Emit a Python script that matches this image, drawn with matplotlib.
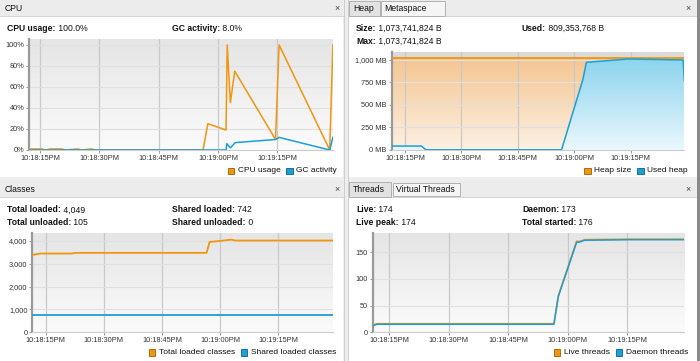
import matplotlib
matplotlib.use('Agg')
import matplotlib.pyplot as plt
import numpy as np
from matplotlib.patches import Rectangle, Polygon
from matplotlib.colors import LinearSegmentedColormap

plt.rcParams['font.family'] = ['Liberation Sans', 'DejaVu Sans']

# ---------------- data (x = seconds relative to 10:18:15 PM) ----------------
time_ticks = [0, 15, 30, 45, 60]
time_labels = ['10:18:15PM', '10:18:30PM', '10:18:45PM', '10:19:00PM', '10:19:15PM']

cpu_t = [-2.7, -1.5, 0.5, 1.5, 2.5, 4.5, 5.5, 6.5, 9.5, 10.5, 13.0, 14.0,
         41.2, 42.4, 47.0, 47.3, 48.1, 49.2, 59.5, 60.4, 73.2, 74.0]
cpu_usage = [1.0, 1.0, 1.0, 0.0, 1.0, 1.0, 1.0, 0.0, 1.0, 0.0, 1.0, 0.0,
             0.0, 25.0, 19.0, 100.0, 45.0, 75.0, 10.0, 100.0, 0.0, 100.0]
gc_t = [-2.7, 47.0, 47.2, 48.1, 49.3, 59.5, 60.4, 73.2, 74.0]
gc_activity = [0.0, 0.0, 6.0, 2.0, 7.0, 10.0, 12.0, 0.0, 12.0]

heap_t = [-3.5, 74.2]
heap_size = [1024, 1024]
used_t = [-3.5, 4.4, 5.6, 41.6, 47.1, 47.3, 48.2, 59.3, 73.9, 74.2]
used_heap = [44, 44, 2, 2, 760, 789, 974, 1011, 1000, 772]

cls_t = [-3.45, -1.5, 6.7, 7.6, 41.5, 42.3, 44.9, 47.9, 48.8, 74.2]
total_loaded = [3390, 3450, 3450, 3480, 3480, 3960, 4000, 4060, 4020, 4020]
shared_t = [-3.45, 74.2]
shared_loaded = [742, 742]

thr_t = [-4.1, -3.1, 41.5, 42.6, 47.2, 48.1, 49.2, 60.3, 74.3]
live_threads = [13, 16, 16, 68, 170, 170, 173, 174, 174]
daemon_threads = [12, 15, 15, 67, 168, 169, 172, 173, 173]

ORANGE = '#f0960f'
BLUE = '#1b9fd6'

W, H = 700, 361
fig = plt.figure(figsize=(W / 100, H / 100), dpi=100)
fig.patch.set_facecolor('white')
bg = fig.add_axes([0, 0, 1, 1])
bg.set_xlim(0, W)
bg.set_ylim(H, 0)
bg.axis('off')
renderer = fig.canvas.get_renderer()


def rect(x0, y0, x1, y1, fc, ec='none', lw=0.0, z=1):
    bg.add_patch(Rectangle((x0, y0), x1 - x0, y1 - y0, fc=fc, ec=ec, lw=lw, zorder=z))


def rich(x, y, parts, size=6.2):
    for s, w in parts:
        t = bg.text(x, y, s, fontsize=size, fontweight=w, va='center', ha='left', color='#111111', zorder=5)
        x = t.get_window_extent(renderer).x1


def legend(xr, y, items, size=6.0):
    x = xr
    for label, color, edge in reversed(items):
        t = bg.text(x, y, label, ha='right', va='center', fontsize=size, color='#111111', zorder=5)
        x0 = t.get_window_extent(renderer).x0
        sr = x0 - 3.5
        rect(sr - 6.5, y - 3.3, sr, y + 3.2, color, edge, 0.6, z=5)
        x = sr - 6.5 - 6


# ---------------- window chrome ----------------
rect(343, 0, 348, H, '#eeeeee')
bg.plot([343.5, 343.5], [0, H], color='#c8c8c8', lw=0.6)
bg.plot([347.5, 347.5], [0, H], color='#c8c8c8', lw=0.6)
rect(0, 177, W, 181, '#eeeeee')
rect(697, 0, 700, H, '#8a8a8a', z=6)

# top-left title bar
rect(0, 0, 343, 16, '#ececec')
bg.plot([0, 343], [16, 16], color='#d0d0d0', lw=0.6)
bg.text(5, 8.5, 'CPU', fontsize=6.2, va='center', color='#111111')
bg.text(337, 8.5, '×', fontsize=6.5, va='center', ha='center', color='#444444')
# top-right title bar with tabs
rect(348, 0, 697, 16, '#ececec')
bg.plot([348, 697], [16, 16], color='#d0d0d0', lw=0.6)
rect(348.5, 1, 380, 16, '#e2e2e2', '#a8a8a8', 0.6, z=2)
rect(380.5, 1, 445, 16, '#f5f5f5', '#a8a8a8', 0.6, z=2)
bg.text(353, 8.5, 'Heap', fontsize=6.2, va='center', color='#111111', zorder=3)
bg.text(384.5, 8.5, 'Metaspace', fontsize=6.2, va='center', color='#111111', zorder=3)
bg.text(688, 8.5, '×', fontsize=6.5, va='center', ha='center', color='#444444')
# bottom-left title bar
rect(0, 181, 343, 197, '#ececec')
bg.plot([0, 343], [197, 197], color='#d0d0d0', lw=0.6)
bg.text(5, 189.5, 'Classes', fontsize=6.2, va='center', color='#111111')
bg.text(337, 189.5, '×', fontsize=6.5, va='center', ha='center', color='#444444')
# bottom-right title bar with tabs
rect(348, 181, 697, 197, '#ececec')
bg.plot([348, 697], [197, 197], color='#d0d0d0', lw=0.6)
rect(348.5, 182, 391, 197, '#e2e2e2', '#a8a8a8', 0.6, z=2)
rect(392.5, 183, 460, 196, '#f5f5f5', '#a8a8a8', 0.6, z=2)
bg.text(353, 189.5, 'Threads', fontsize=6.2, va='center', color='#111111', zorder=3)
bg.text(396, 189.5, 'Virtual Threads', fontsize=6.2, va='center', color='#111111', zorder=3)
bg.text(688, 189.5, '×', fontsize=6.5, va='center', ha='center', color='#444444')

# ---------------- headers ----------------
rich(7, 28.5, [('CPU usage:', 'bold'), (' 100.0%', 'normal')])
rich(172, 28.5, [('GC activity:', 'bold'), (' 8.0%', 'normal')])
rich(356, 28.5, [('Size:', 'bold'), (' 1,073,741,824 B', 'normal')])
rich(356, 41, [('Max:', 'bold'), (' 1,073,741,824 B', 'normal')])
rich(522, 28.5, [('Used:', 'bold'), (' 809,353,768 B', 'normal')])
rich(7, 210, [('Total loaded:', 'bold'), (' 4,049', 'normal')])
rich(7, 222.5, [('Total unloaded:', 'bold'), (' 105', 'normal')])
rich(172, 210, [('Shared loaded:', 'bold'), (' 742', 'normal')])
rich(172, 222.5, [('Shared unloaded:', 'bold'), (' 0', 'normal')])
rich(356, 210, [('Live:', 'bold'), (' 174', 'normal')])
rich(356, 222.5, [('Live peak:', 'bold'), (' 174', 'normal')])
rich(522, 210, [('Daemon:', 'bold'), (' 173', 'normal')])
rich(522, 222.5, [('Total started:', 'bold'), (' 176', 'normal')])

grad = np.linspace(0, 1, 256).reshape(-1, 1)
bg_cmap = LinearSegmentedColormap.from_list('bgc', ['#fbfbfb', '#e5e5e5'])
or_cmap = LinearSegmentedColormap.from_list('orc', ['#fdf1e4', '#f4c590'])
bl_cmap = LinearSegmentedColormap.from_list('blc', ['#ebf8fd', '#8ad3ee'])


def make_ax(l, t, r, b, xlim, ylim, yticks, ylabels, gradient=True):
    ax = fig.add_axes([l / W, 1 - b / H, (r - l) / W, (b - t) / H])
    if gradient:
        ax.imshow(grad, extent=[xlim[0], xlim[1], ylim[0], ylim[1]], aspect='auto',
                  cmap=bg_cmap, origin='lower', zorder=0)
    ax.set_xlim(xlim)
    ax.set_ylim(ylim)
    ax.set_xticks(time_ticks, time_labels)
    ax.set_yticks(yticks, ylabels)
    ax.tick_params(labelsize=5.3, color='#888888', labelcolor='#333333', length=2.5, width=0.6, pad=1)
    ax.grid(axis='x', color='#c9c9c9', lw=0.9)
    ax.grid(axis='y', color='#e0e0e0', lw=0.8)
    ax.set_axisbelow(True)
    for s in ('top', 'right'):
        ax.spines[s].set_visible(False)
    ax.spines['left'].set_color('#9a9a9a')
    ax.spines['left'].set_linewidth(1.6)
    ax.spines['bottom'].set_color('#cccccc')
    ax.spines['bottom'].set_linewidth(0.8)
    return ax


def grad_fill(ax, t, v, cmap, top, z):
    verts = [(t[0], 0)] + list(zip(t, v)) + [(t[-1], 0)]
    poly = Polygon(verts, closed=True, fc='none', ec='none', transform=ax.transData)
    ax.add_patch(poly)
    im = ax.imshow(grad, extent=[t[0], t[-1], 0, top], aspect='auto', cmap=cmap, origin='lower', zorder=z)
    im.set_clip_path(poly)


# CPU
ax1 = make_ax(29.3, 39.3, 333.3, 150, (-2.7, 74.1), (0, 105.3),
              [0, 20, 40, 60, 80, 100], ['0%', '20%', '40%', '60%', '80%', '100%'])
ax1.plot(cpu_t, cpu_usage, color=ORANGE, lw=1.1, zorder=3)
ax1.plot(gc_t, gc_activity, color=BLUE, lw=1.1, zorder=4)
legend(337, 171, [('CPU usage', ORANGE, '#a05a00'), ('GC activity', BLUE, '#0a5f88')])

# Heap
ax2 = make_ax(391.7, 51.7, 684.3, 150, (-3.5, 74.2), (0, 1092),
              [0, 250, 500, 750, 1000], ['0 MB', '250 MB', '500 MB', '750 MB', '1,000 MB'], gradient=False)
ax2.fill_between(heap_t, heap_size, 1092, color='#dadada', zorder=0.2, lw=0)
grad_fill(ax2, heap_t, heap_size, or_cmap, 1024, 0.3)
grad_fill(ax2, used_t, used_heap, bl_cmap, 1024, 1.5)
ax2.set_xlim(-3.5, 74.2)
ax2.set_ylim(0, 1092)
ax2.plot(heap_t, heap_size, color=ORANGE, lw=1.3, zorder=3)
ax2.plot(used_t, used_heap, color=BLUE, lw=1.1, zorder=4)
legend(688, 171, [('Heap size', ORANGE, '#a05a00'), ('Used heap', BLUE, '#0a5f88')])

# Classes
ax3 = make_ax(32.3, 233.3, 333.3, 332.3, (-3.45, 74.2), (0, 4337),
              [0, 1000, 2000, 3000, 4000], ['0', '1,000', '2,000', '3,000', '4,000'])
ax3.plot(cls_t, total_loaded, color=ORANGE, lw=1.3, zorder=3)
ax3.plot(shared_t, shared_loaded, color=BLUE, lw=1.3, zorder=4)
legend(336, 352.5, [('Total loaded classes', ORANGE, '#a05a00'), ('Shared loaded classes', BLUE, '#0a5f88')])

# Threads
ax4 = make_ax(372.7, 233.3, 684.3, 332.3, (-4.1, 74.3), (0, 185),
              [0, 50, 100, 150], ['0', '50', '100', '150'])
ax4.plot(thr_t, live_threads, color=ORANGE, lw=1.2, zorder=3)
ax4.plot(thr_t, daemon_threads, color=BLUE, lw=1.1, zorder=4)
legend(688, 352.5, [('Live threads', ORANGE, '#a05a00'), ('Daemon threads', BLUE, '#0a5f88')])

fig.savefig('out.png', dpi=100, facecolor=fig.get_facecolor())
